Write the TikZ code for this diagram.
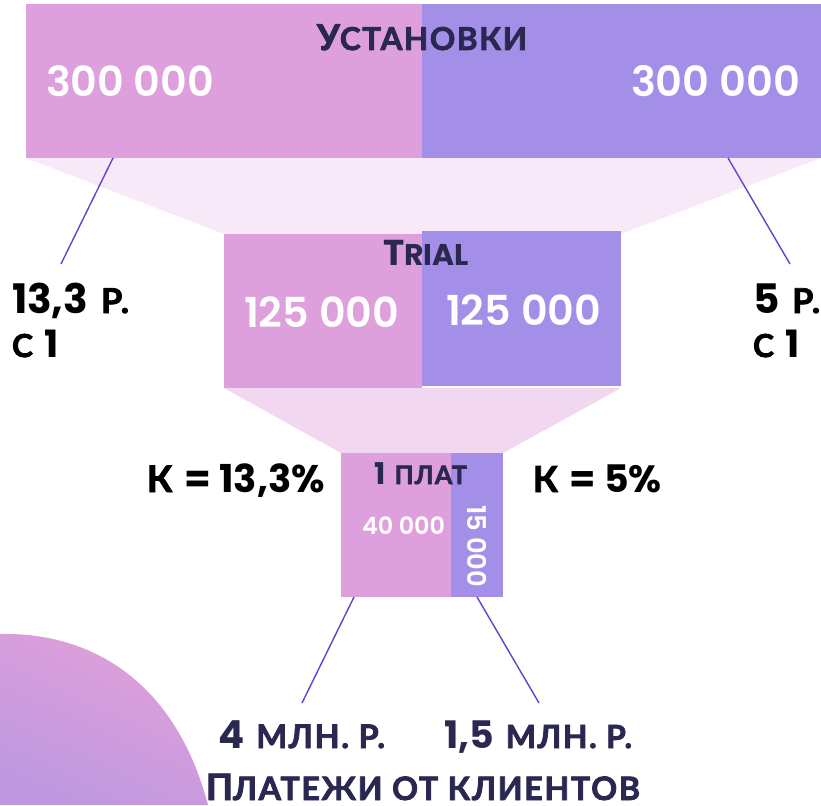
\documentclass[tikz,border=0pt]{standalone}
\usepackage{graphicx}
\usepackage{fontspec}
\setmainfont{Lato}[BoldFeatures={FakeBold=2.4}]
\newfontfamily\pop{Poppins SemiBold}
\newfontfamily\popb{Poppins Bold}
\newfontfamily\lsp{Lato}[BoldFeatures={FakeBold=2.4},LetterSpace=5]
\definecolor{pinkbar}{HTML}{DEA0DD}
\definecolor{purplebar}{HTML}{A38FE8}
\definecolor{funnelA}{HTML}{F8E9F9}
\definecolor{funnelB}{HTML}{F2D7F0}
\definecolor{inkdark}{HTML}{2A2850}
\definecolor{leader}{HTML}{5B48C8}
\definecolor{blobA}{HTML}{E2A0DA}
\definecolor{blobB}{HTML}{BE98E0}
\newcommand{\fitw}[2]{\resizebox{#1pt}{!}{#2}}
\newcommand{\bg}[1]{{\fontsize{18}{18}\selectfont #1}}
\newcommand{\sm}[1]{{\fontsize{16}{16}\selectfont\lsp #1}}
\newcommand{\dg}[1]{{\fontsize{19}{19}\selectfont\mdseries\popb #1}}
\newcommand{\gp}{\hspace{6pt}}
\tikzset{
  bar/.style={draw=none,inner sep=0pt,outer sep=0pt,anchor=north west},
  pinkfill/.style={bar,fill=pinkbar},
  purplefill/.style={bar,fill=purplebar},
  label/.style={inner sep=0pt,outer sep=0pt,anchor=base west,font=\bfseries},
  num/.style={label,text=white,font=\pop},
  dark/.style={label,text=inkdark},
  blackt/.style={label,text=black},
  lead/.style={draw=leader,line width=1.4pt},
}
\begin{document}
\begin{tikzpicture}[x=1pt,y=-1pt]
\useasboundingbox (0,0) rectangle (821,805);
% decorative blob
\begin{scope}
\clip (0,0) rectangle (821,805);
\path[shade,top color=blobA,bottom color=blobB,shading angle=-25]
  (0,634) .. controls (90,632) and (175,680) .. (208,805) -- (0,805) -- cycle;
\end{scope}
% funnels
\fill[funnelA] (26,158) -- (821,158) -- (621,234) -- (224,234) -- cycle;
\fill[funnelB] (224,388) -- (621,388) -- (503,453) -- (341,453) -- cycle;
% bars
\node[pinkfill,minimum width=396pt,minimum height=154pt] (topL) at (26,4) {};
\node[purplefill,minimum width=399pt,minimum height=154pt] (topR) at (422,4) {};
\node[pinkfill,minimum width=198pt,minimum height=154pt] (midL) at (224,234) {};
\node[purplefill,minimum width=199pt,minimum height=155pt] (midR) at (422,231) {};
\node[pinkfill,minimum width=110pt,minimum height=144pt] (botL) at (341,453) {};
\node[purplefill,minimum width=52pt,minimum height=144pt] (botR) at (451,453) {};
% connector ends
\coordinate (lA) at (61,264);
\coordinate (lB) at (790,264);
\coordinate (lC) at (302,703);
\coordinate (lD) at (539,703);
\coordinate (tA) at (113,158);
\coordinate (tB) at (728,158);
\coordinate (tC) at (354,597);
\coordinate (tD) at (477,597);
\draw[lead] (tA) -- (lA);
\draw[lead] (tB) -- (lB);
\draw[lead] (tC) -- (lC);
\draw[lead] (tD) -- (lD);
% texts
\node[dark] (t1) at (317,50) {\fitw{210}{\bg{У}\sm{СТАНОВКИ}}};
\node[num] (n1) at (46,97) {\fitw{168}{300 000}};
\node[num] (n2) at (631,97) {\fitw{169}{300 000}};
\node[dark,font=\popb] (t2) at (383,265) {\fitw{86}{\bg{T}{\fontsize{15}{15}\selectfont RIAL}}};
\node[num] (n3) at (244,327) {\fitw{155}{125 000}};
\node[num] (n4) at (446,325) {\fitw{155}{125 000}};
\node[blackt] (p1) at (12,313) {\fitw{117}{\dg{13,3}\gp\sm{Р.}}};
\node[blackt] (p2) at (12,357) {\fitw{47}{\sm{С}\gp\dg{1}}};
\node[blackt] (p3) at (753,313) {\fitw{67}{\dg{5}\gp\sm{Р.}}};
\node[blackt] (p4) at (753,357) {\fitw{47}{\sm{С}\gp\dg{1}}};
\node[blackt] (k1) at (147,492) {\fitw{178}{\bg{К}\gp\dg{= 13,3\%}}};
\node[blackt] (k2) at (533,492) {\fitw{129}{\bg{К}\gp\dg{= 5\%}}};
\node[dark] (t3) at (374,484) {\fitw{93}{\dg{1}\gp\sm{ПЛАТ}}};
\node[num] (n5) at (362,534) {\fitw{83}{40 000}};
\node[num,rotate=-90] (n6) at (467,505) {\fitw{82}{15 000}};
\node[dark] (m1) at (218,748) {\fitw{167}{\dg{4}\gp\sm{МЛН. Р.}}};
\node[dark] (m2) at (444,748) {\fitw{188}{\dg{1,5}\gp\sm{МЛН. Р.}}};
\node[dark] (m3) at (206,800) {\fitw{434}{\bg{П}\sm{ЛАТЕЖИ ОТ КЛИЕНТОВ}}};
\end{tikzpicture}
\end{document}
